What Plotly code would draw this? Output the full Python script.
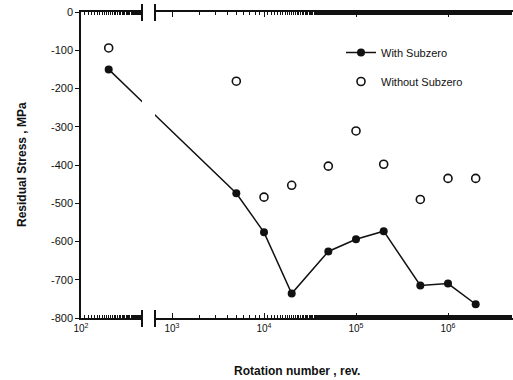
import plotly.graph_objects as go

# Data
rotations = [200, 5e3, 1e4, 2e4, 5e4, 1e5, 2e5, 5e5, 1e6, 2e6]
with_subzero = [-150, -474, -576, -736, -626, -594, -573, -715, -710, -764]
without_subzero = [-94, -181, -484, -453, -403, -311, -398, -490, -435, -435]

x_tick_vals = [100, 1000, 10000, 100000, 1000000]
x_tick_text = ["10<sup>2</sup>", "10<sup>3</sup>", "10<sup>4</sup>", "10<sup>5</sup>", "10<sup>6</sup>"]
y_tick_vals = [0, -100, -200, -300, -400, -500, -600, -700, -800]
y_tick_text = ["0", "-100", "-200", "-300", "-400", "-500", "-600", "-700", "-800"]

W, H = 513, 380
ML, MR, MT, MB = 81, 0, 12, 62
PW = W - ML - MR
PH = H - MT - MB

FONT = "Liberation Sans, Arial, sans-serif"
ink = "#111111"

fig = go.Figure()

for xa, show in (("x", True), ("x2", False)):
    fig.add_trace(go.Scatter(
        x=rotations, y=with_subzero, xaxis=xa, yaxis="y",
        mode="lines+markers", name="With Subzero", showlegend=show,
        legendgroup="a",
        line=dict(color=ink, width=1.5),
        marker=dict(symbol="circle", size=8, color=ink),
    ))
    fig.add_trace(go.Scatter(
        x=rotations, y=without_subzero, xaxis=xa, yaxis="y",
        mode="markers", name="Without Subzero", showlegend=show,
        legendgroup="b",
        marker=dict(symbol="circle-open", size=8, color=ink, line=dict(width=1.6, color=ink)),
    ))

split_l = (142 - ML) / PW
split_r = (155 - ML) / PW

xcommon = dict(
    type="log", tickvals=x_tick_vals, ticktext=x_tick_text,
    showline=True, linecolor=ink, linewidth=1.5, mirror="ticks",
    ticks="inside", ticklen=5, tickcolor=ink, showgrid=False, zeroline=False,
    tickfont=dict(family=FONT, size=10, color=ink),
    minor=dict(ticks="inside", ticklen=3, tickcolor=ink, showgrid=False),
)

fig.update_layout(
    width=W, height=H,
    margin=dict(l=ML, r=MR, t=MT, b=MB),
    paper_bgcolor="white", plot_bgcolor="white",
    xaxis=dict(domain=[0, split_l], range=[2, 2 + 61 / 92], anchor="y", **xcommon),
    xaxis2=dict(domain=[split_r, 1], range=[4 - 109 / 92, 4 + 249 / 92], anchor="y", **xcommon),
    yaxis=dict(
        range=[-800, 0], tickvals=y_tick_vals, ticktext=y_tick_text,
        showline=True, linecolor=ink, linewidth=1.5,
        ticks="outside", ticklen=4, tickcolor=ink, showgrid=False, zeroline=False,
        tickfont=dict(family=FONT, size=11, color=ink),
    ),
    showlegend=True,
    legend=dict(
        x=(341 - ML) / PW, y=1 - (38 - MT) / PH, xanchor="left", yanchor="top",
        bgcolor="rgba(0,0,0,0)", font=dict(family=FONT, size=11, color=ink),
        tracegroupgap=10, itemwidth=30,
    ),
)

# axis titles
fig.add_annotation(
    text="<b>Rotation number , rev.</b>", xref="paper", yref="paper",
    x=0.5, y=-(371 - 318) / PH, xanchor="center", yanchor="middle",
    showarrow=False, font=dict(family=FONT, size=12, color=ink),
)
fig.add_annotation(
    text="<b>Residual Stress , MPa</b>", xref="paper", yref="paper",
    x=-(ML - 22) / PW, y=0.5, xanchor="center", yanchor="middle", textangle=-90,
    showarrow=False, font=dict(family=FONT, size=12, color=ink),
)

# axis break marks
for px in (142, 155):
    xp = (px - ML) / PW
    for y0, y1 in ((1 + 8 / PH, 1 - 9 / PH), (8 / PH, -9 / PH)):
        fig.add_shape(type="line", xref="paper", yref="paper",
                      x0=xp, x1=xp, y0=y0, y1=y1,
                      line=dict(color=ink, width=2))

fig.write_html("out.html")
